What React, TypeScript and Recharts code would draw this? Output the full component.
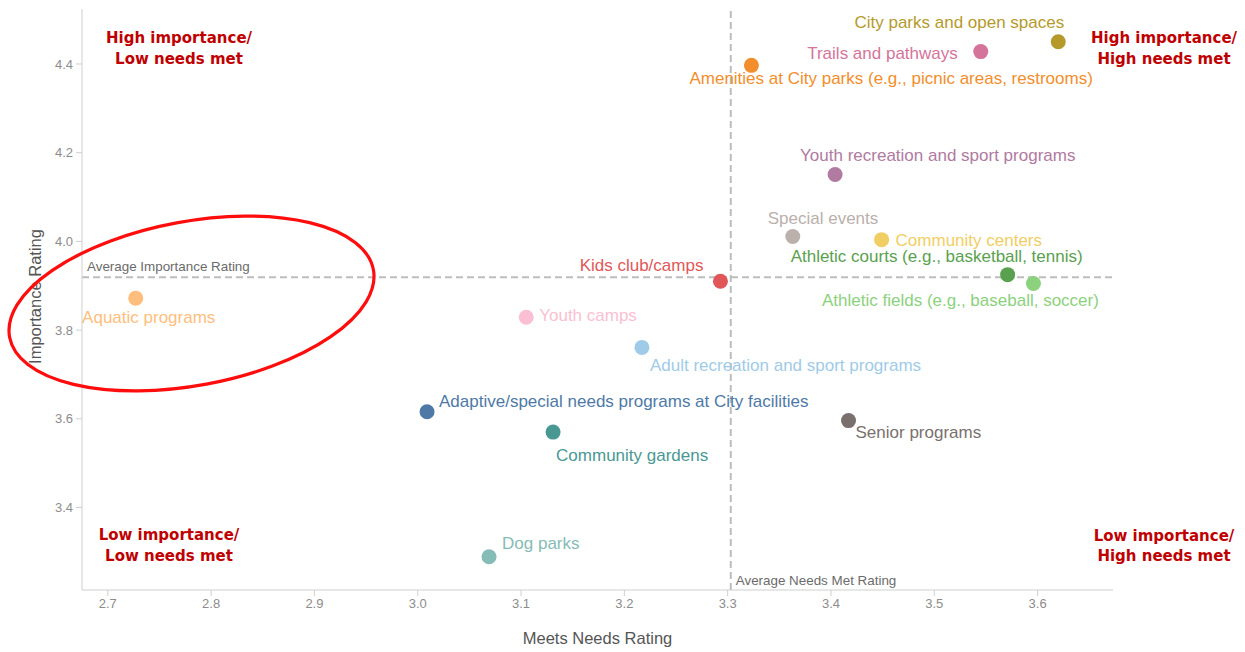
// Importance vs. needs-met quadrant chart for parks & recreation programs
import {
  Customized,
  Label,
  ReferenceDot,
  ReferenceLine,
  Scatter,
  ScatterChart,
  XAxis,
  YAxis,
} from "recharts";

const programs = [
  "City parks and open spaces",
  "Trails and pathways",
  "Amenities at City parks (e.g., picnic areas, restrooms)",
  "Youth recreation and sport programs",
  "Special events",
  "Community centers",
  "Athletic courts (e.g., basketball, tennis)",
  "Athletic fields (e.g., baseball, soccer)",
  "Kids club/camps",
  "Aquatic programs",
  "Youth camps",
  "Adult recreation and sport programs",
  "Adaptive/special needs programs at City facilities",
  "Community gardens",
  "Dog parks",
  "Senior programs",
];

const needsMetRating = [
  3.62, 3.545, 3.323, 3.404, 3.363, 3.449, 3.571, 3.596, 3.293, 2.727, 3.105, 3.217, 3.009,
  3.131, 3.069, 3.417,
];

const importanceRating = [
  4.45, 4.428, 4.397, 4.151, 4.011, 4.004, 3.925, 3.905, 3.91, 3.872, 3.829, 3.761, 3.616,
  3.57, 3.289, 3.596,
];

const avgNeedsMet = 3.303;
const avgImportance = 3.919;

const xTicks = [2.7, 2.8, 2.9, 3.0, 3.1, 3.2, 3.3, 3.4, 3.5, 3.6];
const yTicks = [3.4, 3.6, 3.8, 4.0, 4.2, 4.4];

const colors = [
  "#b59a2b", "#d5749a", "#f28e2b", "#b07aa1", "#bab0ac", "#f1ce63", "#59a14f", "#8cd17d",
  "#e15759", "#ffbe7d", "#fabfd2", "#a0cbe8", "#4e79a7", "#499894", "#86bcb6", "#79706e",
];

// where each name sits relative to its dot: [anchor, dx, dy]
const labelPlacement: [string, number, number][] = [
  ["end", 6, -14],
  ["end", -23, 7],
  ["start", -62, 19],
  ["start", -35, -13],
  ["start", -25, -13],
  ["start", 14, 6],
  ["middle", -71, -13],
  ["middle", -73, 22],
  ["end", -17, -10],
  ["middle", 13, 25],
  ["start", 13, 4],
  ["start", 8, 24],
  ["start", 12, -5],
  ["start", 3, 29],
  ["start", 13, -8],
  ["start", 7, 17],
];

const data = programs.map((name, i) => ({
  name,
  x: needsMetRating[i],
  y: importanceRating[i],
  idx: i,
}));

const FONT = "'Liberation Sans', Arial, sans-serif";
const AXIS_GREY = "#cfcfcf";

function ProgramDot(props: any) {
  const { cx, cy, payload } = props;
  if (cx == null || cy == null || !payload) return null;
  const i = payload.idx;
  const [anchor, dx, dy] = labelPlacement[i];
  return (
    <g>
      <circle cx={cx} cy={cy} r={7.5} fill={colors[i]} />
      <text
        x={cx + dx}
        y={cy + dy}
        textAnchor={anchor as any}
        fontFamily={FONT}
        fontSize={17}
        fill={colors[i]}
      >
        {payload.name}
      </text>
    </g>
  );
}

function QuadrantLabels() {
  const lines = [
    { x: 179, y: 43, t: "High importance/" },
    { x: 179, y: 64, t: "Low needs met" },
    { x: 1164, y: 43, t: "High importance/" },
    { x: 1164, y: 64, t: "High needs met" },
    { x: 169, y: 540, t: "Low importance/" },
    { x: 169, y: 561, t: "Low needs met" },
    { x: 1164, y: 541, t: "Low importance/" },
    { x: 1164, y: 561, t: "High needs met" },
  ];
  return (
    <g fontFamily="'DejaVu Sans', Tahoma, sans-serif" fontWeight="bold" fontSize={15} fill="#c00000">
      {lines.map((l, k) => (
        <text key={k} x={l.x} y={l.y} textAnchor="middle">
          {l.t}
        </text>
      ))}
    </g>
  );
}

function YTitle(props: any) {
  const vb = props.viewBox || { x: 0, y: 9, width: 82, height: 581 };
  const cx = vb.x + 41;
  const cy = vb.y + vb.height / 2 - 3;
  return (
    <text
      x={cx}
      y={cy}
      transform={`rotate(-90 ${cx} ${cy})`}
      textAnchor="middle"
      fontFamily={FONT}
      fontSize={16.5}
      fill="#555"
    >
      Importance Rating
    </text>
  );
}

function AvgImportanceLabel(props: any) {
  const vb = props.viewBox;
  if (!vb) return null;
  return (
    <text x={vb.x + 5} y={vb.y - 6} fontFamily={FONT} fontSize={13.4} fill="#6b6b6b">
      Average Importance Rating
    </text>
  );
}

function AvgNeedsLabel(props: any) {
  const vb = props.viewBox;
  if (!vb) return null;
  return (
    <text x={vb.x + 5} y={vb.y + vb.height - 5} fontFamily={FONT} fontSize={13.4} fill="#6b6b6b">
      Average Needs Met Rating
    </text>
  );
}

function Ellipse(props: any) {
  const { cx, cy } = props;
  if (cx == null || cy == null) return null;
  return (
    <ellipse
      cx={cx}
      cy={cy}
      rx={185}
      ry={82}
      transform={`rotate(-10.5 ${cx} ${cy})`}
      fill="none"
      stroke="#ff0d0d"
      strokeWidth={3.2}
    />
  );
}

export default function App() {
  return (
    <div style={{ position: "absolute", left: 0, top: 0, width: 1245, height: 652, background: "#fff" }}>
      <ScatterChart width={1245} height={652} margin={{ top: 9, right: 132, bottom: 0, left: 0 }}>
        <XAxis
          type="number"
          dataKey="x"
          domain={[2.675, 3.673]}
          ticks={xTicks}
          allowDataOverflow
          tickFormatter={(v: number) => v.toFixed(1)}
          tick={{ fontSize: 13, fill: "#8c8c8c", fontFamily: FONT }}
          tickSize={6}
          tickMargin={3}
          stroke={AXIS_GREY}
          height={62}
        >
          <Label
            value="Meets Needs Rating"
            position="insideBottom"
            offset={8}
            style={{ fontSize: 16.5, fill: "#555", fontFamily: FONT }}
          />
        </XAxis>
        <YAxis
          type="number"
          dataKey="y"
          domain={[3.214, 4.524]}
          ticks={yTicks}
          allowDataOverflow
          tickFormatter={(v: number) => v.toFixed(1)}
          tick={{ fontSize: 13, fill: "#8c8c8c", fontFamily: FONT }}
          tickSize={6}
          tickMargin={3}
          stroke={AXIS_GREY}
          width={82}
        >
          <Label content={YTitle} />
        </YAxis>
        <ReferenceLine
          y={avgImportance}
          stroke="#bdbdbd"
          strokeWidth={2}
          strokeDasharray="7 4"
          label={AvgImportanceLabel}
        />
        <ReferenceLine
          x={avgNeedsMet}
          stroke="#bdbdbd"
          strokeWidth={2}
          strokeDasharray="7 4"
          label={AvgNeedsLabel}
        />
        <Scatter data={data} shape={ProgramDot} isAnimationActive={false} />
        <ReferenceDot x={2.781} y={3.86} ifOverflow="visible" shape={Ellipse} />
        <Customized component={QuadrantLabels} />
      </ScatterChart>
    </div>
  );
}
